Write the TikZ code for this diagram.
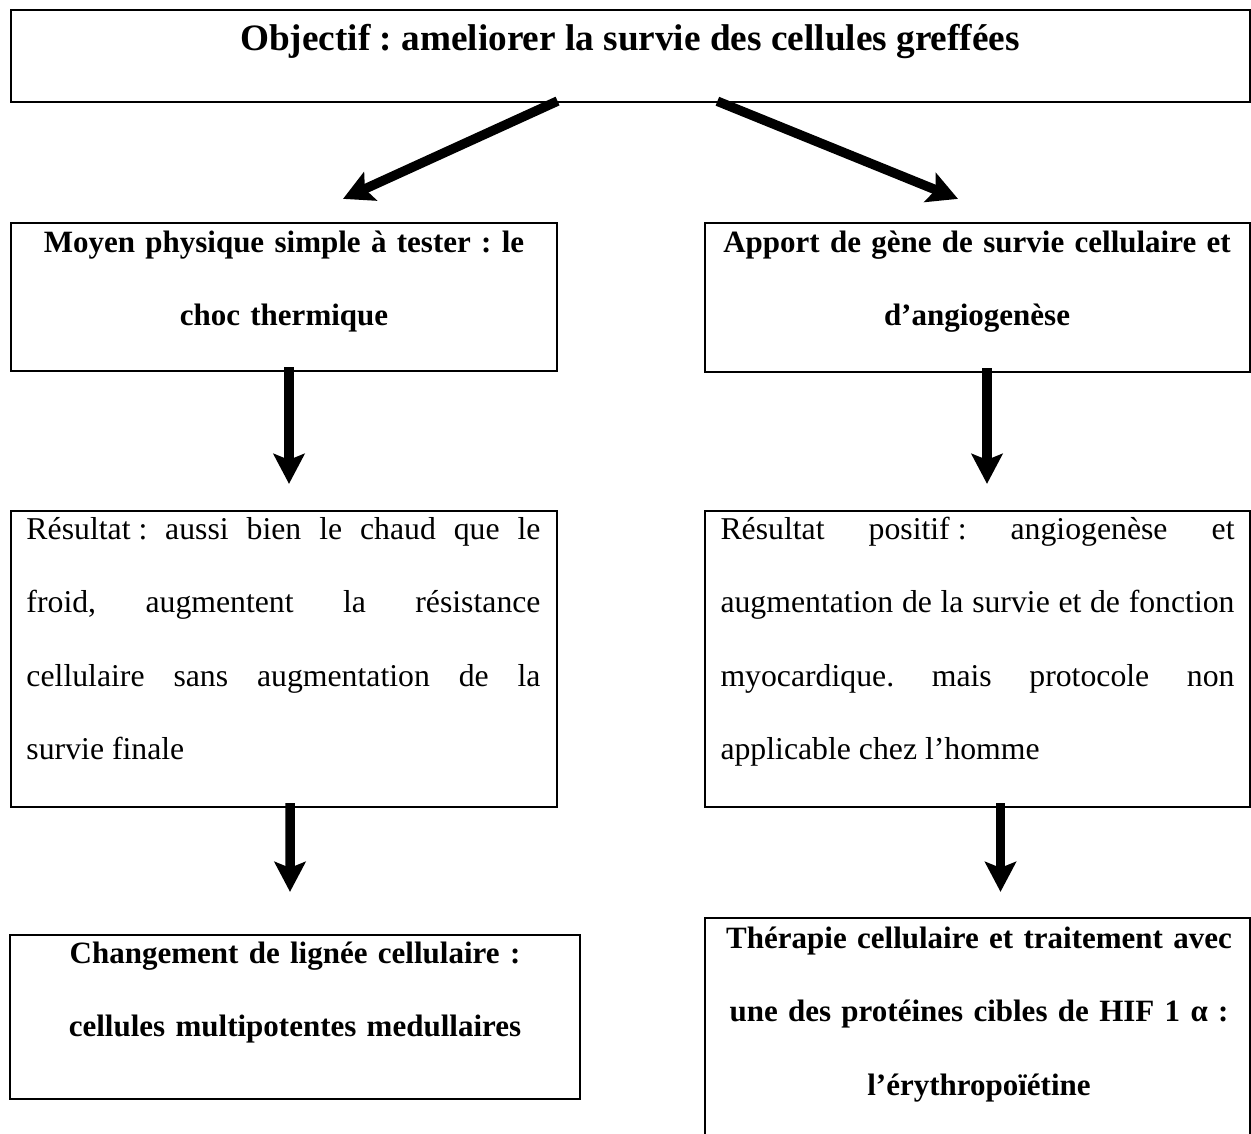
\documentclass[tikz,border=0pt]{standalone}
\usepackage{fontspec}
\setmainfont{Liberation Serif}
\usetikzlibrary{arrows.meta}
\hyphenpenalty=10000
\exhyphenpenalty=10000
\frenchspacing
\newcommand{\nbsp}{\nobreak\hspace{0.25em}}

\begin{document}
\begin{tikzpicture}[x=0.4pt,y=-0.4pt,
  box/.style={draw,line width=0.9pt,inner sep=0pt},
  headtext/.style={font=\fontsize{14.9}{20}\selectfont\bfseries,anchor=base,inner sep=0pt},
  boldtext/.style={font=\fontsize{12.4}{29.4}\selectfont\bfseries,align=center,text width=214pt,anchor=base,inner sep=0pt},
  plaintext/.style={font=\fontsize{12.7}{29.4}\selectfont,align=justify,text width=205.6pt,anchor=base west,inner sep=0pt},
  bigarrow/.style={-{Stealth[length=12pt,width=12.4pt,inset=2.4pt]},line width=3.8pt,shorten <=-2pt}]
  \useasboundingbox (0,0) rectangle (1251,1133);
  \clip (0,0) rectangle (1251,1133);
  \node[box,minimum width=495.6pt,minimum height=36.8pt] (obj) at (630.5,56) {};
  \node[box,minimum width=218.4pt,minimum height=59.2pt] (phys) at (284,297) {};
  \node[box,minimum width=218pt,minimum height=59.6pt] (gene) at (977.5,297.5) {};
  \node[box,minimum width=218.4pt,minimum height=118.4pt] (res1) at (284,659) {};
  \node[box,minimum width=218pt,minimum height=118.4pt] (res2) at (977.5,659) {};
  \node[box,minimum width=228pt,minimum height=65.6pt] (lign) at (295,1017) {};
  \node[box,minimum width=218pt,minimum height=100.8pt] (epo) at (977.5,1044) {};
  \node[headtext] (objT) at (630,50) {Objectif : ameliorer la survie des cellules greffées};
  \node[boldtext] (physT) at (284,252) {Moyen physique simple à tester : le\\choc thermique};
  \node[boldtext] (geneT) at (977,252) {Apport de gène de survie cellulaire et\\d’angiogenèse};
  \node[plaintext] (res1T) at (26,539) {Résultat\nbsp: aussi bien le chaud que le\linebreak froid, augmentent la résistance\linebreak cellulaire sans augmentation de la\linebreak survie finale};
  \node[plaintext] (res2T) at (720,539) {Résultat positif\nbsp: angiogenèse et\linebreak augmentation de la survie et de fonction\linebreak myocardique. mais protocole non\linebreak applicable chez l’homme};
  \node[boldtext] (lignT) at (295,963) {Changement de lignée cellulaire :\\cellules multipotentes medullaires};
  \node[boldtext] (epoT) at (979,948) {Thérapie cellulaire et traitement avec\\une des protéines cibles de HIF 1 α :\\l’érythropoïétine};
  \draw[bigarrow] ([xshift=-31pt]obj.south) -- ([xshift=23.6pt,yshift=9.2pt]phys.north);
  \draw[bigarrow] ([xshift=36.6pt]obj.south) -- ([xshift=-7.8pt,yshift=9.2pt]gene.north);
  \draw[bigarrow] ([xshift=2pt]phys.south) -- ([xshift=2pt,yshift=10.4pt]res1.north);
  \draw[bigarrow] ([xshift=3.8pt]gene.south) -- ([xshift=3.8pt,yshift=10.4pt]res2.north);
  \draw[bigarrow] ([xshift=2.4pt]res1.south) -- ([xshift=-2pt,yshift=16.8pt]lign.north);
  \draw[bigarrow] ([xshift=9.2pt]res2.south) -- ([xshift=9.2pt,yshift=10pt]epo.north);
\end{tikzpicture}
\end{document}
